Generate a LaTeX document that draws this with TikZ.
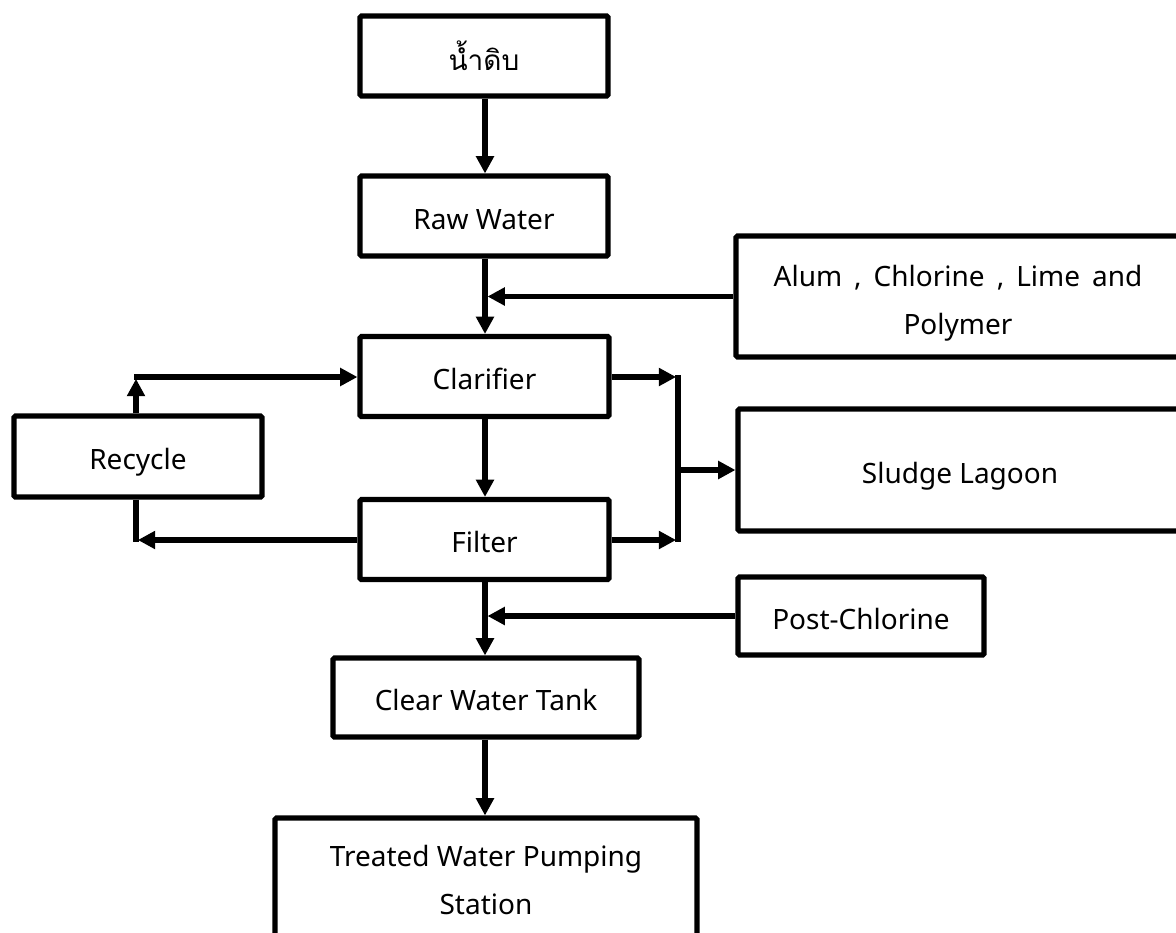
\documentclass[tikz,border=0pt]{standalone}
\usepackage{fontspec}
\setmainfont{Noto Sans}
\newfontfamily\thaifont[Script=Thai]{Loma}
\usetikzlibrary{arrows.meta}
\tikzset{
  box/.style={draw=black, line width=3.8pt, rounded corners=1pt, fill=white, align=center,
    inner sep=0pt, font=\fontsize{21pt}{36pt}\selectfont},
  low/.style={text height=20pt, text depth=0pt},
  flow/.style={line width=3.8pt, -{Triangle[length=13pt,width=13pt]}},
  plain/.style={line width=3.8pt}
}
\begin{document}
\begin{tikzpicture}[x=0.75pt,y=-0.75pt]
\useasboundingbox (0,0) rectangle (1176,932);
\clip (0,0) rectangle (1176,932);
\node[box, minimum width=248*0.75pt, minimum height=80*0.75pt] (thai) at (484,56) {\thaifont\fontsize{21pt}{36pt}\selectfont น้ำดิบ};
\node[box, low, minimum width=248*0.75pt, minimum height=80*0.75pt] (raw) at (484,216) {Raw Water};
\node[box, text height=57.5pt, text depth=0pt, minimum width=444*0.75pt, minimum height=121*0.75pt] (alum) at (958,296.5) {\spaceskip=9pt Alum , Chlorine , Lime and\\Polymer};
\node[box, low, minimum width=249*0.75pt, minimum height=80*0.75pt] (clar) at (484.5,376.5) {Clarifier};
\node[box, low, minimum width=248*0.75pt, minimum height=81*0.75pt] (rec) at (138,456.5) {Recycle};
\node[box, low, minimum width=444*0.75pt, minimum height=122*0.75pt] (sludge) at (960,470) {Sludge Lagoon};
\node[box, low, minimum width=249*0.75pt, minimum height=80*0.75pt] (filter) at (484.5,539.5) {Filter};
\node[box, low, minimum width=246*0.75pt, minimum height=78*0.75pt] (post) at (861,616) {Post-Chlorine};
\node[box, low, minimum width=306*0.75pt, minimum height=79*0.75pt] (clear) at (486,697.5) {Clear Water Tank};
\node[box, minimum width=422*0.75pt, minimum height=124*0.75pt] (treat) at (486,880) {Treated Water Pumping\\Station};

\coordinate (ja) at (487.5,296.5);
\coordinate (jp) at (487.5,616);
\coordinate (bt) at (678,377);
\coordinate (bb) at (678,540);
\coordinate (bm) at (678,470);
\coordinate (rt) at (136,377);
\coordinate (rb) at (136,540);

\draw[flow] (thai.south -| 485,0) -- (raw.north -| 485,0);
\draw[flow] (raw.south -| 485,0) -- (clar.north -| 485,0);
\draw[flow] (alum.west) -- (ja);
\draw[flow] (clar.south -| 485,0) -- (filter.north -| 485,0);
\draw[flow] (filter.south -| 485,0) -- (clear.north -| 485,0);
\draw[flow] (post.west) -- (jp);
\draw[flow] (clear.south -| 485,0) -- (treat.north -| 485,0);

\draw[flow] (clar.east |- bt) -- ([xshift=-1.4pt]bt);
\draw[flow] (filter.east |- bb) -- ([xshift=-1.4pt]bb);
\draw[plain] ([yshift=1.4pt]bt) -- ([yshift=-1.4pt]bb);
\draw[flow] (bm) -- (sludge.west |- bm);

\draw[flow] (rec.north -| rt) -- ([yshift=-1.4pt]rt);
\draw[flow] ([xshift=-1.4pt]rt) -- (clar.west |- rt);
\draw[plain] (rec.south -| rb) -- ([yshift=-1.4pt]rb);
\draw[flow] (filter.west |- rb) -- ([xshift=1.4pt]rb);
\end{tikzpicture}
\end{document}
